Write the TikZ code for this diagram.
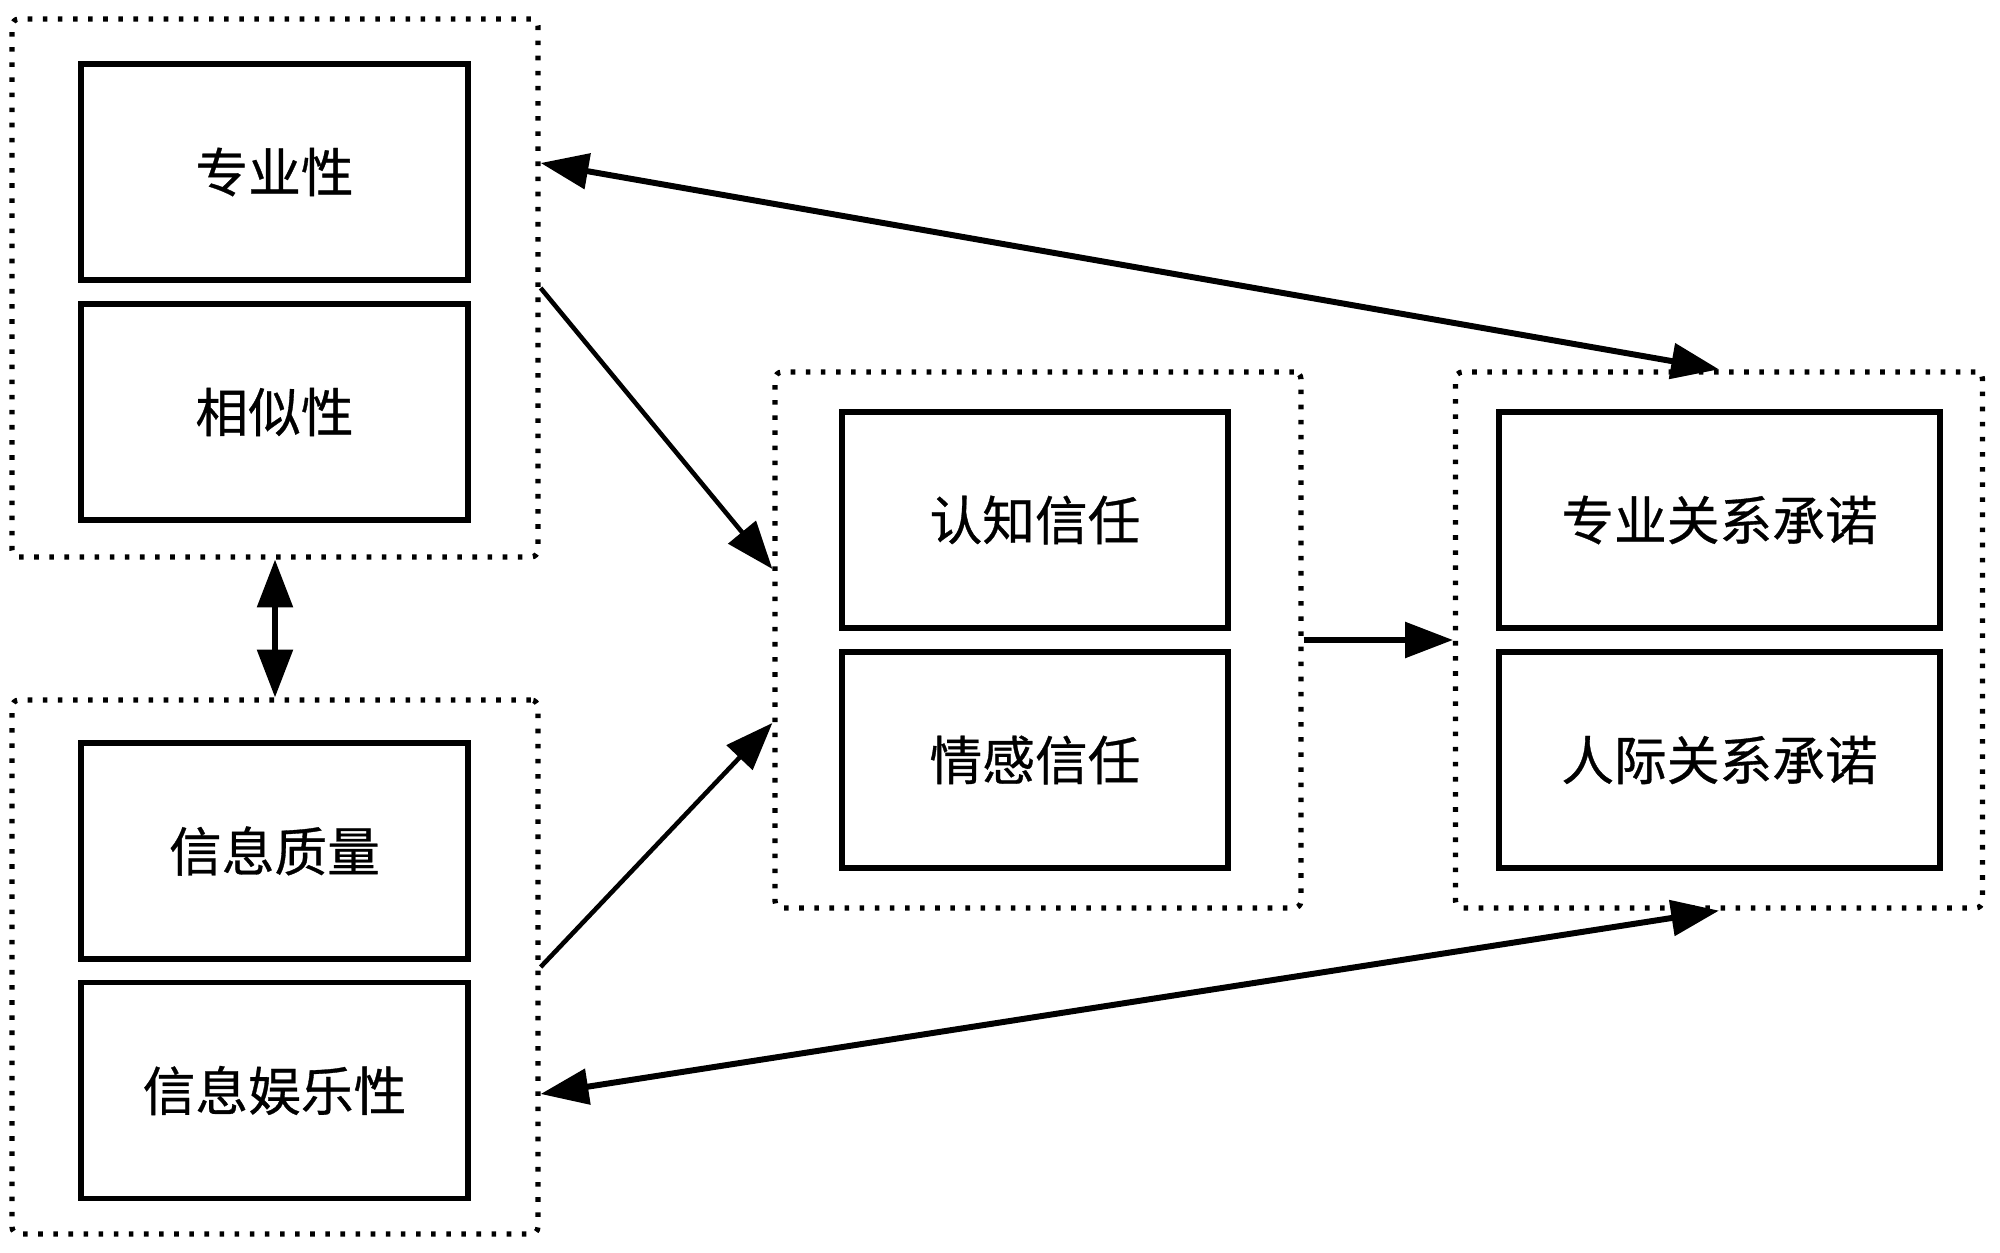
\documentclass[tikz,border=0pt]{standalone}
\usepackage{fontspec}
\setmainfont{Noto Sans CJK SC}[FakeBold=0.6]
\usetikzlibrary{arrows.meta}

\begin{document}
\begin{tikzpicture}[
  box/.style={draw, line width=1.6pt, minimum height=2.16cm, inner sep=0pt, font=\fontsize{15pt}{18pt}\selectfont},
  group/.style={draw, line width=1.5pt, dash pattern=on 1.3pt off 3pt, rounded corners=2pt, minimum width=5.26cm, minimum height=5.36cm, inner sep=0pt},
  arr/.style={line width=1.5pt, -{Triangle[length=13.6pt,width=10pt]}},
  darr/.style={line width=1.5pt, {Triangle[length=13.6pt,width=10pt]}-{Triangle[length=13.6pt,width=10pt]}}]
\useasboundingbox (0,0) rectangle (20,12.52);
\node[group, minimum height=5.38cm] (G1) at (2.75,9.64) {};
\node[group, minimum height=5.34cm] (G2) at (2.75,2.85) {};
\node[group] (G3) at (10.38,6.12) {};
\node[group, minimum width=5.27cm] (G4) at (17.19,6.12) {};
\node[box, minimum width=3.87cm] (G1N1) at (2.745,10.80) {专业性};
\node[box, minimum width=3.87cm] (G1N2) at (2.745,8.40) {相似性};
\node[box, minimum width=3.87cm] (G2N1) at (2.745,4.01) {信息质量};
\node[box, minimum width=3.87cm] (G2N2) at (2.745,1.615) {信息娱乐性};
\node[box, minimum width=3.86cm] (G3N1) at (10.35,7.32) {认知信任};
\node[box, minimum width=3.86cm] (G3N2) at (10.35,4.92) {情感信任};
\node[box, minimum width=4.41cm] (G4N1) at (17.195,7.32) {专业关系承诺};
\node[box, minimum width=4.41cm] (G4N2) at (17.195,4.92) {人际关系承诺};
\draw[darr, line width=1.7pt] ([yshift=1.25cm]G1.east) -- (G4.north);
\draw[darr, line width=1.7pt] ([yshift=-1.27cm]G2.east) -- (G4.south);
\draw[darr] (G1.south) -- (G2.north);
\draw[arr, line width=1.3pt] (G1.east) -- ([yshift=0.71cm]G3.west);
\draw[arr, line width=1.3pt] (G2.east) -- ([yshift=-0.83cm]G3.west);
\draw[arr] (G3.east) -- (G4.west);
\end{tikzpicture}
\end{document}
